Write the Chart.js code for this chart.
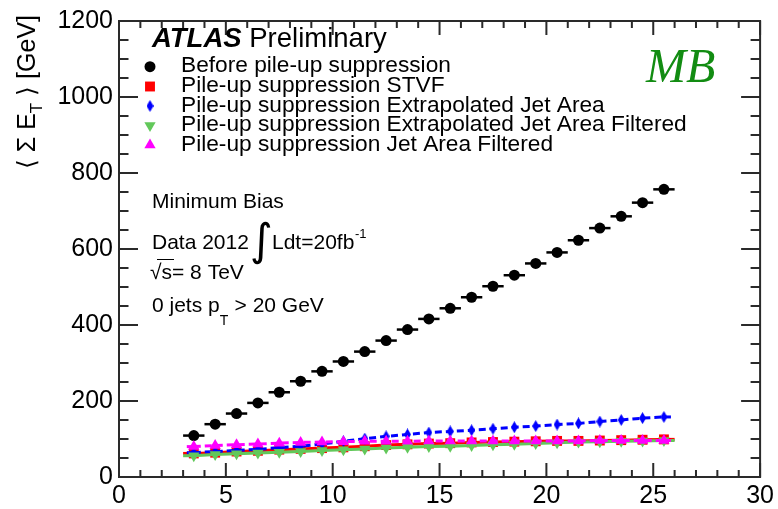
<!DOCTYPE html>
<html>
<head>
<meta charset="utf-8">
<script src="https://cdn.jsdelivr.net/npm/chart.js@4.4.1/dist/chart.umd.min.js"></script>
<style>
  html, body { margin: 0; padding: 0; background: #fff; }
</style>
</head>
<body>
<canvas id="graficoSumaEt" width="778" height="509"></canvas>
<script>
// centros de bin en <mu>
const muBins = [3.5, 4.5, 5.5, 6.5, 7.5, 8.5, 9.5, 10.5, 11.5, 12.5, 13.5, 14.5,
  15.5, 16.5, 17.5, 18.5, 19.5, 20.5, 21.5, 22.5, 23.5, 24.5, 25.5];

// <sum E_T> [GeV] por serie
const antesSupresion = [109, 139, 167, 195, 223, 252, 278, 304, 330, 359, 388, 416,
  444, 473, 502, 531, 562, 591, 623, 655, 686, 722, 757];
const supresionStvf = [62, 64, 67, 69, 72, 74, 76, 78, 81, 84, 86, 88,
  89, 91, 92, 93, 94, 95, 95, 96, 97, 98, 99];
const extrapJetArea = [64, 67, 70, 73, 77, 81, 87, 94, 101, 107, 112, 117,
  120, 123, 127, 131, 134, 138, 141, 146, 150, 155, 158];
const extrapJetAreaFiltrado = [56, 59, 61, 63, 65, 67, 70, 72, 74, 76, 78, 80,
  81, 83, 85, 86, 88, 90, 92, 93, 94, 95, 96];
const jetAreaFiltrado = [80, 83, 85, 87, 89, 91, 92, 93, 94, 94, 94, 95,
  95, 95, 95, 95, 95, 95, 95, 96, 96, 96, 96];

const ticksX = [0, 5, 10, 15, 20, 25, 30];
const ticksY = [0, 200, 400, 600, 800, 1000, 1200];

const etiquetas = [
  "Before pile-up suppression",
  "Pile-up suppression STVF",
  "Pile-up suppression Extrapolated Jet Area",
  "Pile-up suppression Extrapolated Jet Area Filtered",
  "Pile-up suppression Jet Area Filtered",
];

const FUENTE = "'Liberation Sans', Arial, sans-serif";

// rombo alargado (marcador 33 de ROOT)
function rombo(ancho, alto, color) {
  const c = document.createElement("canvas");
  c.width = ancho;
  c.height = alto;
  const g = c.getContext("2d");
  g.fillStyle = color;
  g.beginPath();
  g.moveTo(ancho / 2, 0);
  g.lineTo(ancho, alto / 2);
  g.lineTo(ancho / 2, alto);
  g.lineTo(0, alto / 2);
  g.closePath();
  g.fill();
  return c;
}

const puntos = (ys) => muBins.map((x, i) => ({ x: x, y: ys[i] }));

const series = [
  { datos: antesSupresion, color: "#000000", estilo: "circle", radio: 5.5, rot: 0, linea: false, dash: [], orden: 5 },
  { datos: supresionStvf, color: "#ff0000", estilo: "rect", radio: 7, rot: 0, linea: true, dash: [], orden: 4 },
  { datos: extrapJetArea, color: "#0000ff", estilo: rombo(7, 12, "#0000ff"), radio: 5, rot: 0, linea: true, dash: [7, 4], orden: 3 },
  { datos: extrapJetAreaFiltrado, color: "#62c85a", estilo: "triangle", radio: 6.5, rot: 180, linea: true, dash: [], orden: 2 },
  { datos: jetAreaFiltrado, color: "#ff00ff", estilo: "triangle", radio: 6.5, rot: 0, linea: true, dash: [7, 4], orden: 1 },
];

// barras horizontales de +-0.5 (ancho del bin) y extremos de las curvas
const barrasError = {
  id: "barrasError",
  beforeDatasetDraw(chart, args) {
    const ds = chart.data.datasets[args.index];
    const sx = chart.scales.x;
    const sy = chart.scales.y;
    const ctx = chart.ctx;
    ctx.save();
    ctx.strokeStyle = ds.borderColor;
    if (!ds.showLine) {
      ctx.lineWidth = 2.5;
      ds.data.forEach((p) => {
        const y = sy.getPixelForValue(p.y);
        ctx.beginPath();
        ctx.moveTo(sx.getPixelForValue(p.x - 0.5), y);
        ctx.lineTo(sx.getPixelForValue(p.x + 0.5), y);
        ctx.stroke();
      });
    } else {
      ctx.lineWidth = ds.borderWidth;
      ctx.setLineDash(ds.borderDash || []);
      const ini = ds.data[0];
      const fin = ds.data[ds.data.length - 1];
      [[ini, -0.5], [fin, 0.5]].forEach(([p, d]) => {
        const y = sy.getPixelForValue(p.y);
        ctx.beginPath();
        ctx.moveTo(sx.getPixelForValue(p.x), y);
        ctx.lineTo(sx.getPixelForValue(p.x + d), y);
        ctx.stroke();
      });
    }
    ctx.restore();
  },
};

// marco con marcas hacia dentro en los cuatro lados
const marco = {
  id: "marco",
  afterDraw(chart) {
    const { ctx, chartArea: a, scales } = chart;
    const sx = scales.x;
    const sy = scales.y;
    ctx.save();
    ctx.strokeStyle = "#2a2a2a";
    ctx.lineWidth = 2;
    ctx.strokeRect(a.left, a.top, a.right - a.left, a.bottom - a.top);
    ctx.beginPath();
    for (let v = 0; v <= 30; v += 1) {
      const x = sx.getPixelForValue(v);
      const l = v % 5 === 0 ? 14 : 7;
      ctx.moveTo(x, a.bottom);
      ctx.lineTo(x, a.bottom - l);
      ctx.moveTo(x, a.top);
      ctx.lineTo(x, a.top + l);
    }
    for (let v = 0; v <= 1200; v += 50) {
      const y = sy.getPixelForValue(v);
      const l = v % 200 === 0 ? 19 : 9.5;
      ctx.moveTo(a.left, y);
      ctx.lineTo(a.left + l, y);
      ctx.moveTo(a.right, y);
      ctx.lineTo(a.right - l, y);
    }
    ctx.stroke();
    ctx.restore();
  },
};

// leyenda, rotulos y titulo del eje y
const textos = {
  id: "textos",
  afterDraw(chart) {
    const ctx = chart.ctx;
    ctx.save();
    ctx.fillStyle = "#000";
    ctx.textBaseline = "alphabetic";

    // ATLAS Preliminary
    ctx.font = "italic bold 27.5px " + FUENTE;
    ctx.fillText("ATLAS", 152, 47);
    const wAtlas = ctx.measureText("ATLAS ").width;
    ctx.font = "27.5px " + FUENTE;
    ctx.fillText("Preliminary", 152 + wAtlas, 47);

    // entradas de la leyenda
    const filas = [66.7, 86.5, 106, 125.5, 145];
    series.forEach((s, i) => {
      ctx.fillStyle = s.color;
      Chart.helpers.drawPoint(ctx, { pointStyle: s.estilo, radius: s.radio, rotation: s.rot, borderWidth: 0 }, 150, filas[i]);
      ctx.fillStyle = "#000";
      ctx.font = "22.7px " + FUENTE;
      ctx.fillText(etiquetas[i], 181, filas[i] + 5.5);
    });

    // MB
    ctx.fillStyle = "#128c12";
    ctx.font = "italic 48px 'Liberation Serif', serif";
    ctx.fillText("MB", 646, 82);

    // informacion de la muestra
    ctx.fillStyle = "#000";
    ctx.font = "21px " + FUENTE;
    ctx.fillText("Minimum Bias", 152, 208);
    ctx.fillText("Data 2012", 152, 249);
    ctx.font = "44px 'DejaVu Sans', sans-serif";
    ctx.fillText("\u222B", 250, 255);
    ctx.font = "21px " + FUENTE;
    ctx.fillText("Ldt=20fb", 272, 249);
    ctx.font = "13px " + FUENTE;
    ctx.fillText("-1", 355, 238);
    ctx.font = "21px " + FUENTE;
    ctx.fillText("\u221As= 8 TeV", 150, 279);
    ctx.strokeStyle = "#000";
    ctx.lineWidth = 1;
    ctx.beginPath();
    ctx.moveTo(157, 259.5);
    ctx.lineTo(174, 259.5);
    ctx.stroke();
    ctx.fillText("0 jets p", 152, 312);
    const wJets = ctx.measureText("0 jets p").width;
    ctx.font = "14px " + FUENTE;
    ctx.fillText("T", 152 + wJets, 325);
    ctx.font = "21px " + FUENTE;
    ctx.fillText(" > 20 GeV", 152 + wJets + 9, 312);

    // titulo del eje y, alineado arriba
    ctx.translate(35, 15);
    ctx.rotate(-Math.PI / 2);
    const p1 = "\u27E8 \u03A3 E";
    const p2 = "T";
    const p3 = " \u27E9 [GeV]";
    ctx.font = "25px " + FUENTE;
    const w1 = ctx.measureText(p1).width;
    const w3 = ctx.measureText(p3).width;
    ctx.font = "17px " + FUENTE;
    const w2 = ctx.measureText(p2).width;
    const total = w1 + w2 + w3;
    ctx.font = "25px " + FUENTE;
    ctx.fillText(p1, -total, 0);
    ctx.fillText(p3, -w3, 0);
    ctx.font = "17px " + FUENTE;
    ctx.fillText(p2, -total + w1, 7);
    ctx.restore();
  },
};

const datasets = series.map((s, i) => ({
  label: etiquetas[i],
  data: puntos(s.datos),
  showLine: s.linea,
  borderColor: s.color,
  backgroundColor: s.color,
  borderWidth: 3,
  borderDash: s.dash,
  pointStyle: s.estilo,
  pointRadius: s.radio,
  pointRotation: s.rot,
  pointBackgroundColor: s.color,
  pointBorderColor: s.color,
  pointBorderWidth: 0,
  order: s.orden,
}));

new Chart(document.getElementById("graficoSumaEt"), {
  type: "line",
  data: { datasets: datasets },
  options: {
    responsive: false,
    devicePixelRatio: 1,
    animation: false,
    layout: { padding: { top: 15, right: 15, left: 0, bottom: 0 } },
    plugins: { legend: { display: false }, tooltip: { enabled: false } },
    scales: {
      x: {
        type: "linear",
        min: 0,
        max: 30,
        grid: { display: false, drawTicks: false },
        border: { display: false },
        afterBuildTicks: (s) => { s.ticks = ticksX.map((v) => ({ value: v })); },
        afterFit: (s) => { s.height = 32; },
        ticks: { color: "#000", padding: 4, maxRotation: 0, font: { family: FUENTE, size: 25 }, callback: (v) => String(v) },
      },
      y: {
        type: "linear",
        min: 0,
        max: 1200,
        grid: { display: false, drawTicks: false },
        border: { display: false },
        afterBuildTicks: (s) => { s.ticks = ticksY.map((v) => ({ value: v })); },
        afterFit: (s) => { s.width = 119; },
        ticks: { color: "#000", padding: 6, font: { family: FUENTE, size: 25 }, callback: (v) => String(v) },
      },
    },
  },
  plugins: [barrasError, marco, textos],
});
</script>
</body>
</html>
